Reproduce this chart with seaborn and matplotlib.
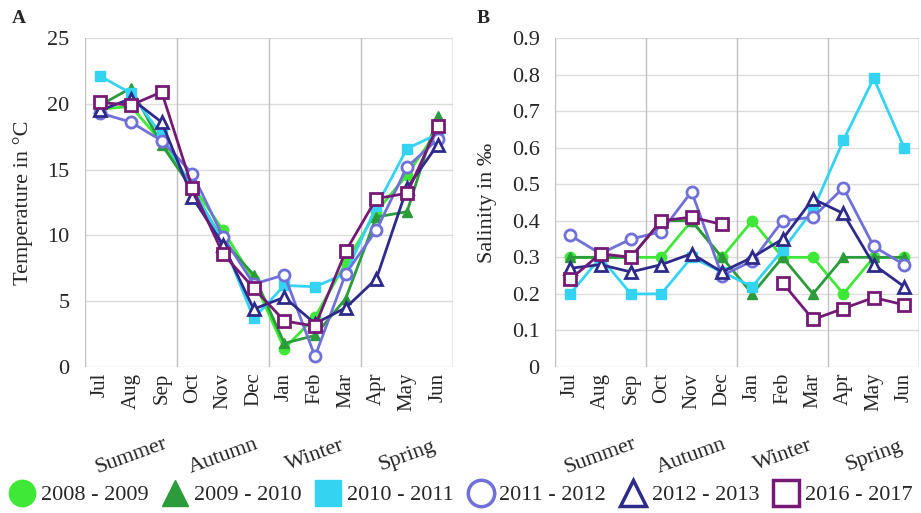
import numpy as np
import pandas as pd
import matplotlib
matplotlib.use("Agg")
import matplotlib.pyplot as plt
from matplotlib.lines import Line2D
import seaborn as sns

months = ["Jul", "Aug", "Sep", "Oct", "Nov", "Dec", "Jan", "Feb", "Mar", "Apr", "May", "Jun"]
seasons = ["Summer", "Autumn", "Winter", "Spring"]
years = ["2008 - 2009", "2009 - 2010", "2010 - 2011", "2011 - 2012", "2012 - 2013", "2016 - 2017"]

temp_0809 = [19.6, 19.8, 17.1, 13.8, 10.4, 6.6, 1.4, 3.8, 7.9, 11.8, 14.6, 18.0]
temp_0910 = [19.9, 21.2, 16.9, 13.5, 9.6, 7.0, 1.8, 2.4, 5.2, 11.4, 11.8, 19.1]
temp_1011 = [22.1, 20.8, 17.6, 13.6, 9.5, 3.7, 6.2, 6.1, 7.1, 12.2, 16.6, 17.7]
temp_1112 = [19.3, 18.6, 17.2, 14.7, 9.9, 6.3, 7.0, 0.8, 7.1, 10.4, 15.2, 17.3]
temp_1213 = [19.5, 20.4, 18.6, 12.9, 9.3, 4.4, 5.3, 3.3, 4.5, 6.7, 13.6, 16.9]
temp_1617 = [20.1, 19.9, 20.9, 13.6, 8.6, 6.0, 3.5, 3.1, 8.8, 12.8, 13.2, 18.3]

sal_0809 = [0.30, 0.30, 0.30, 0.30, 0.40, 0.30, 0.40, 0.30, 0.30, 0.20, 0.30, 0.30]
sal_0910 = [0.30, 0.30, 0.30, 0.40, 0.40, 0.30, 0.20, 0.30, 0.20, 0.30, 0.30, 0.30]
sal_1011 = [0.20, 0.30, 0.20, 0.20, 0.30, 0.26, 0.22, 0.32, 0.43, 0.62, 0.79, 0.60]
sal_1112 = [0.36, 0.31, 0.35, 0.37, 0.48, 0.25, 0.29, 0.40, 0.41, 0.49, 0.33, 0.28]
sal_1213 = [0.27, 0.28, 0.26, 0.28, 0.31, 0.26, 0.30, 0.35, 0.46, 0.42, 0.28, 0.22]
sal_1617 = [0.24, 0.31, 0.30, 0.40, 0.41, 0.39, np.nan, 0.23, 0.13, 0.16, 0.19, 0.17]

temps = [temp_0809, temp_0910, temp_1011, temp_1112, temp_1213, temp_1617]
sals = [sal_0809, sal_0910, sal_1011, sal_1112, sal_1213, sal_1617]

colors = ["#3fe836", "#2b9b3b", "#35d3f2", "#7070d8", "#2e2a8c", "#741a76"]
markers = ["o", "^", "s", "o", "^", "s"]
filled = [True, True, True, False, False, False]

sns.set_style("white")
plt.rcParams["font.family"] = ["Liberation Serif", "DejaVu Serif"]
plt.rcParams["mathtext.fontset"] = "stix"

fig = plt.figure(figsize=(9.21, 5.13), dpi=100)
axA = fig.add_axes([0.0923, 0.2846, 0.3996, 0.6413])
axB = fig.add_axes([0.6026, 0.2846, 0.3955, 0.6413])

x_idx = np.arange(len(months))


def draw(ax, series_list, ymax, ystep, yfmt):
    for i, vals in enumerate(series_list):
        df = pd.DataFrame({"x": x_idx, "y": vals, "yr": years[i]})
        seg = df["y"].isna().cumsum()
        for _, part in df[df["y"].notna()].groupby(seg[df["y"].notna()]):
            kw = dict(marker=markers[i], markersize=(8 if not filled[i] else 7.5),
                      markeredgecolor=colors[i], linewidth=2.0,
                      markerfacecolor=(colors[i] if filled[i] else "white"),
                      markeredgewidth=(2.0 if not filled[i] else 1.0))
            sns.lineplot(data=part, x="x", y="y", ax=ax, color=colors[i], sort=False,
                         legend=False, zorder=3 + i, **kw)
    ax.set_xlim(-0.5, len(months) - 0.5)
    ax.set_ylim(0, ymax)
    yt = np.arange(0, ymax + ystep / 2, ystep)
    ax.set_yticks(yt)
    ax.set_yticklabels([yfmt(v) for v in yt], fontsize=16)
    for v in yt:
        ax.axhline(v, color="#dcdcdc", lw=1.0, zorder=1)
    # season boundaries
    bounds = np.arange(-0.5, len(months), 3)
    for b in list(bounds) + [len(months) - 0.5]:
        ax.axvline(b, color="#c0c0c0", lw=1.0, zorder=1)
    ax.set_xticks(list(bounds) + [len(months) - 0.5])
    ax.set_xticklabels([])
    ax.tick_params(axis="x", which="major", length=9, color="#c0c0c0", width=1.0, direction="out")
    ax.set_xticks(x_idx, minor=True)
    ax.set_xticklabels(months, minor=True, rotation=90, fontsize=15)
    ax.tick_params(axis="x", which="minor", length=0, pad=4)
    ax.tick_params(axis="y", length=4, color="#c0c0c0", width=1.0, pad=7)
    for sp in ax.spines.values():
        sp.set_visible(False)
    trans = ax.get_xaxis_transform()
    for k, s in enumerate(seasons):
        ax.text(3 * k + 1, -0.27, s, transform=trans, rotation=20, ha="center",
                va="center", fontsize=16)
    ax.set_xlabel("")


draw(axA, temps, 25, 5, lambda v: f"{v:.0f}")
draw(axB, sals, 0.9, 0.1, lambda v: "0" if v == 0 else f"{v:.1f}")

axA.set_ylabel("Temperature in °C", fontsize=16)
axB.set_ylabel("Salinity in ‰", fontsize=16)
axA.yaxis.set_label_coords(-0.142, 0.5)
axB.yaxis.set_label_coords(-0.16, 0.5)

fig.text(0.013, 0.955, "A", fontsize=14, fontweight="bold")
fig.text(0.518, 0.955, "B", fontsize=14, fontweight="bold")

handles = []
for i in range(len(years)):
    handles.append(Line2D([], [], linestyle="none", marker=markers[i], markersize=19,
                          markeredgecolor=colors[i],
                          markerfacecolor=(colors[i] if filled[i] else "white"),
                          markeredgewidth=(2.5 if not filled[i] else 1.0)))
fig.legend(handles, years, loc="center", bbox_to_anchor=(0.5, 0.035), ncol=6,
           frameon=False, fontsize=16, handlelength=1.2, handletextpad=0.25,
           columnspacing=0.6, borderaxespad=0, borderpad=0)

fig.savefig("out.png", dpi=100)
